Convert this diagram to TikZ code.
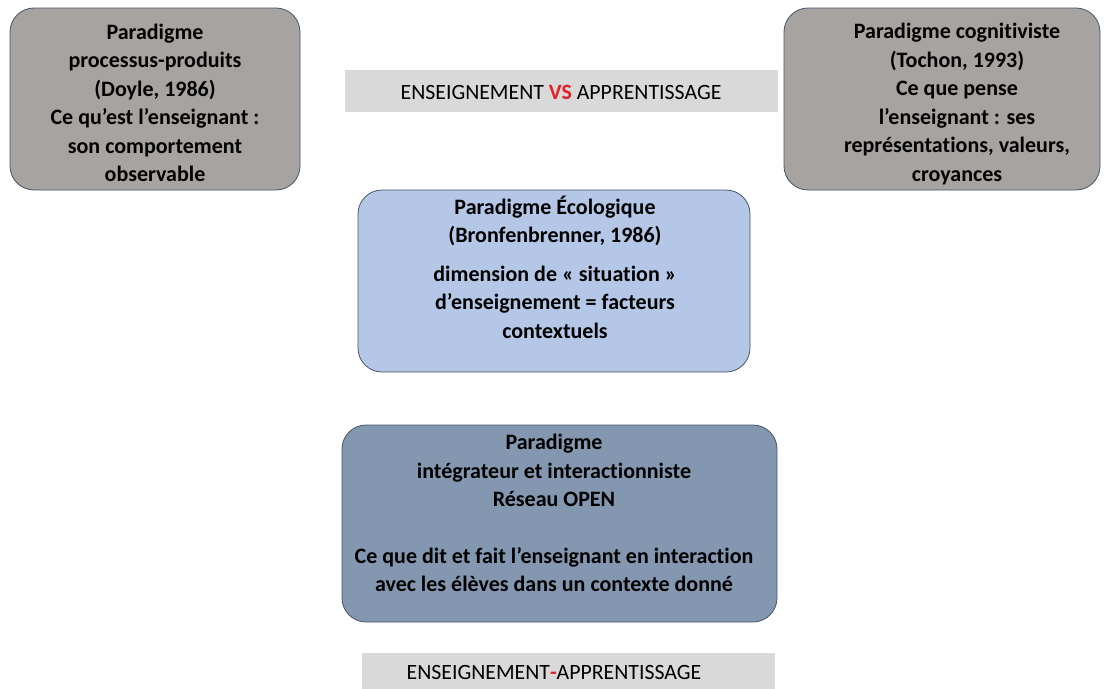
\documentclass[tikz,border=0pt]{standalone}
\usepackage{fontspec}
\setmainfont{Carlito}[Ligatures={NoCommon}]
\definecolor{boxgray}{RGB}{167,163,161}
\definecolor{edgeblue}{RGB}{68,84,106}
\definecolor{lightblue}{RGB}{180,199,231}
\definecolor{slateblue}{RGB}{132,151,176}
\definecolor{bannergray}{RGB}{217,217,217}
\definecolor{vsred}{RGB}{230,30,40}
\tikzset{
  pbox/.style={draw=edgeblue, line width=0.8pt, rounded corners=24pt, inner sep=0pt},
  btext/.style={align=center, font=\fontsize{22}{28.5}\selectfont\bfseries, inner sep=0pt},
  banner/.style={fill=bannergray, draw=none, inner sep=0pt},
  bantext/.style={font=\fontsize{21.8}{24}\selectfont, inner sep=0pt}
}
\begin{document}
\begin{tikzpicture}[x=1pt,y=1pt]
\useasboundingbox (0,0) rectangle (1105,-688);
% top-left box
\node[pbox, fill=boxgray, minimum width=290pt, minimum height=182pt] (pp) at (155,-99) {};
\node[btext] (ppt) at (155,-103) {Paradigme\\processus-produits\\(Doyle, 1986)\\Ce qu’est l’enseignant :\\son comportement\\observable};
% top-right box
\node[pbox, fill=boxgray, minimum width=316pt, minimum height=182pt] (cg) at (942,-99) {};
\node[btext] (cgt) at (957,-104) {Paradigme cognitiviste\\(Tochon, 1993)\\Ce que pense\\l’enseignant : ses\\représentations, valeurs,\\croyances};
% top banner
\node[banner, minimum width=433pt, minimum height=42pt] (vs) at (561.5,-91) {};
\node[bantext] (vst) at (561,-92) {ENSEIGNEMENT {\color{vsred}\bfseries VS} APPRENTISSAGE};
% ecological box
\node[pbox, fill=lightblue, minimum width=392pt, minimum height=182pt] (eco) at (554,-281) {};
\node[btext] (ecot) at (555,-267) {Paradigme Écologique\\(Bronfenbrenner, 1986)\\[10pt]dimension de « situation »\\d’enseignement = facteurs\\contextuels};
% integrative box
\node[pbox, fill=slateblue, minimum width=435pt, minimum height=197pt] (int) at (559.5,-523.5) {};
\node[btext] (intt) at (554,-513) {Paradigme\\intégrateur et interactionniste\\Réseau OPEN\\[28pt]Ce que dit et fait l’enseignant en interaction\\avec les élèves dans un contexte donné};
% bottom banner
\node[banner, minimum width=413pt, minimum height=36pt] (ea) at (568.5,-671) {};
\node[bantext] (eat) at (554,-672) {ENSEIGNEMENT{\color{vsred}\bfseries -}APPRENTISSAGE};
\end{tikzpicture}
\end{document}
